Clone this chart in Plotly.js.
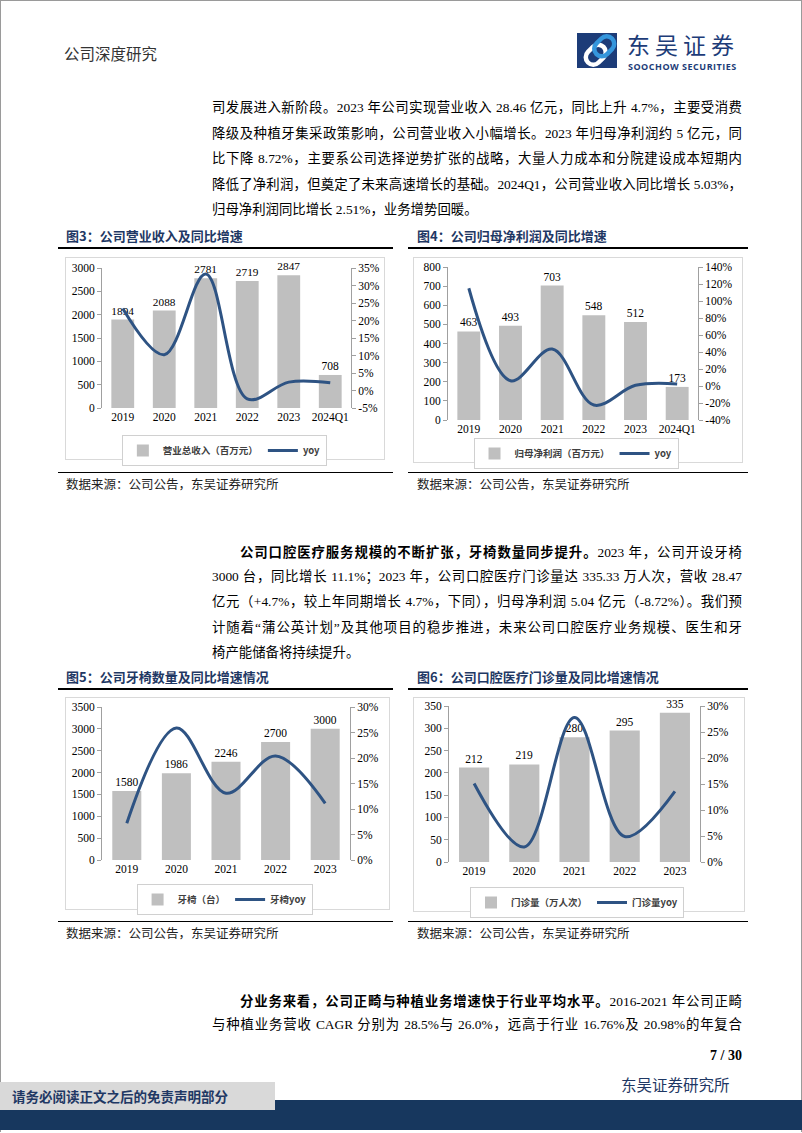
<!DOCTYPE html>
<html><head><meta charset="utf-8">
<script src="https://cdn.plot.ly/plotly-3.0.1.min.js"></script>
<style>
body{margin:0;width:802px;height:1133px;position:relative;background:#fff;overflow:hidden;font-family:"Liberation Serif","Noto Sans CJK SC",serif;color:#000;}
.abs{position:absolute;}
.tl{position:absolute;left:212px;width:530px;font-size:13.4px;line-height:18px;height:18px;text-align:justify;text-align-last:justify;}
.last{text-align-last:left;}
.figt{position:absolute;font-family:"Noto Sans CJK SC";font-weight:bold;font-size:13px;color:#1f3864;line-height:16px;}
.rule{position:absolute;height:2px;background:#000;}
.srule{position:absolute;height:1px;background:#000;}
.src{position:absolute;font-family:"Noto Sans CJK SC";font-size:12.5px;color:#222;line-height:16px;}
.frame{position:absolute;border:1px solid #d9d9d9;box-sizing:border-box;pointer-events:none;}
.chart{position:absolute;}
b{font-weight:bold;}
</style></head>
<body>
<div class="abs" style="left:0;top:0;width:800px;height:1131px;border:1px solid #9a9a9a;border-bottom:none;"></div>

<div class="abs" style="left:64px;top:43px;font-family:'Noto Sans CJK SC';font-size:15.5px;color:#333;line-height:20px;">公司深度研究</div>

<svg class="abs" style="left:577px;top:33px" width="46" height="35" viewBox="0 0 46 35">
  <rect x="0" y="0" width="46" height="35" fill="#1d3c78"/>
  <g transform="rotate(-45 23 17.5)">
    <rect x="6" y="10" width="22" height="15" rx="7.5" fill="none" stroke="#ffffff" stroke-width="4.5"/>
    <rect x="18" y="10" width="22" height="15" rx="7.5" fill="none" stroke="#3596dc" stroke-width="4.5"/>
  </g>
  <rect x="40" y="0" width="6" height="35" fill="#ffffff"/>
</svg>
<div class="abs" style="left:627px;top:32px;font-family:'Noto Sans CJK SC';font-size:23px;line-height:24px;height:24px;color:#1d3c78;letter-spacing:5px;">东吴证券</div>
<div class="abs" style="left:628px;top:61px;font-family:'Open Sans';font-weight:bold;font-size:9px;line-height:11px;color:#1d3c78;letter-spacing:0.5px;">SOOCHOW SECURITIES</div>

<div class="tl" style="top:99px;">司发展进入新阶段。2023 年公司实现营业收入 28.46 亿元，同比上升 4.7%，主要受消费</div>
<div class="tl" style="top:124.5px;">降级及种植牙集采政策影响，公司营业收入小幅增长。2023 年归母净利润约 5 亿元，同</div>
<div class="tl" style="top:150px;">比下降 8.72%，主要系公司选择逆势扩张的战略，大量人力成本和分院建设成本短期内</div>
<div class="tl" style="top:175.5px;">降低了净利润，但奠定了未来高速增长的基础。2024Q1，公司营业收入同比增长 5.03%，</div>
<div class="tl last" style="top:201px;">归母净利润同比增长 2.51%，业务增势回暖。</div>

<div class="figt" style="left:66px;top:228px;">图3：公司营业收入及同比增速</div>
<div class="figt" style="left:417px;top:228px;">图4：公司归母净利润及同比增速</div>
<div class="rule" style="left:58px;top:247px;width:335px;"></div>
<div class="rule" style="left:408px;top:247px;width:340px;"></div>

<div class="frame" style="left:65px;top:257px;width:320px;height:203px;"></div>
<div class="frame" style="left:413px;top:257px;width:330px;height:206px;"></div>
<div id="c3" class="chart" style="left:65px;top:257px;"></div>
<div id="c4" class="chart" style="left:413px;top:257px;"></div>

<div class="srule" style="left:58px;top:472px;width:335px;"></div>
<div class="srule" style="left:408px;top:472px;width:340px;"></div>
<div class="src" style="left:66px;top:476px;">数据来源：公司公告，东吴证券研究所</div>
<div class="src" style="left:417px;top:476px;">数据来源：公司公告，东吴证券研究所</div>

<div class="tl" style="top:542px;left:240px;width:502px;"><b style="font-family:'Noto Sans CJK SC';">公司口腔医疗服务规模的不断扩张，牙椅数量同步提升。</b>2023 年，公司开设牙椅</div>
<div class="tl" style="top:567.5px;">3000 台，同比增长 11.1%；2023 年，公司口腔医疗门诊量达 335.33 万人次，营收 28.47</div>
<div class="tl" style="top:593px;">亿元（+4.7%，较上年同期增长 4.7%，下同），归母净利润 5.04 亿元（-8.72%）。我们预</div>
<div class="tl" style="top:618.5px;">计随着“蒲公英计划”及其他项目的稳步推进，未来公司口腔医疗业务规模、医生和牙</div>
<div class="tl last" style="top:644px;">椅产能储备将持续提升。</div>

<div class="figt" style="left:66px;top:669px;">图5：公司牙椅数量及同比增速情况</div>
<div class="figt" style="left:417px;top:669px;">图6：公司口腔医疗门诊量及同比增速情况</div>
<div class="rule" style="left:58px;top:688px;width:335px;"></div>
<div class="rule" style="left:408px;top:688px;width:340px;"></div>

<div class="frame" style="left:65px;top:697px;width:325px;height:213px;"></div>
<div class="frame" style="left:413px;top:697px;width:332px;height:215px;"></div>
<div id="c5" class="chart" style="left:65px;top:697px;"></div>
<div id="c6" class="chart" style="left:413px;top:697px;"></div>

<div class="srule" style="left:58px;top:921px;width:335px;"></div>
<div class="srule" style="left:408px;top:921px;width:340px;"></div>
<div class="src" style="left:66px;top:925px;">数据来源：公司公告，东吴证券研究所</div>
<div class="src" style="left:417px;top:925px;">数据来源：公司公告，东吴证券研究所</div>

<div class="tl" style="top:991px;left:240px;width:502px;"><b style="font-family:'Noto Sans CJK SC';">分业务来看，公司正畸与种植业务增速快于行业平均水平。</b>2016-2021 年公司正畸</div>
<div class="tl" style="top:1016px;">与种植业务营收 CAGR 分别为 28.5%与 26.0%，远高于行业 16.76%及 20.98%的年复合</div>

<div class="abs" style="left:642px;top:1047px;width:100px;text-align:right;font-weight:bold;font-size:14px;line-height:18px;">7 / 30</div>
<div class="abs" style="left:621px;top:1074px;font-family:'Noto Sans CJK SC';font-size:15.5px;line-height:20px;color:#1f3864;">东吴证券研究所</div>

<div class="abs" style="left:0;top:1100px;width:802px;height:30px;background:#17375e;"></div>
<div class="abs" style="left:0;top:1082px;width:275px;height:28px;background:#d9d9d9;"></div>
<div class="abs" style="left:12px;top:1087px;font-family:'Noto Sans CJK SC';font-weight:bold;font-size:13.5px;line-height:18px;color:#1f3864;">请务必阅读正文之后的免责声明部分</div>

<script>
// ---- data ----
const years6 = ['2019','2020','2021','2022','2023','2024Q1'];
const years5 = ['2019','2020','2021','2022','2023'];

const revenue = [1894, 2088, 2781, 2719, 2847, 708];          // 营业总收入（百万元）
const revenueYoy = [23.4, 10.2, 33.3, -2.4, 2.4, 2.2];         // yoy %
const revenueTicksL = [0, 500, 1000, 1500, 2000, 2500, 3000];
const revenueTicksR = [-5, 0, 5, 10, 15, 20, 25, 30, 35];

const netProfit = [463, 493, 703, 548, 512, 173];              // 归母净利润（百万元）
const netProfitYoy = [115, 6.2, 43.4, -22.4, 0.8, 2.5];
const netProfitTicksL = [0, 100, 200, 300, 400, 500, 600, 700, 800];
const netProfitTicksR = [-40, -20, 0, 20, 40, 60, 80, 100, 120, 140];

const chairs = [1580, 1986, 2246, 2700, 3000];                 // 牙椅（台）
const chairsYoy = [7.2, 25.9, 13.1, 20.4, 11.1];
const chairsTicksL = [0, 500, 1000, 1500, 2000, 2500, 3000, 3500];
const chairsTicksR = [0, 5, 10, 15, 20, 25, 30];

const visits = [212, 219, 280, 295, 335];                      // 门诊量（万人次）
const visitsYoy = [15.1, 2.9, 27.8, 4.9, 13.6];
const visitsTicksL = [0, 50, 100, 150, 200, 250, 300, 350];
const visitsTicksR = [0, 5, 10, 15, 20, 25, 30];

// ---- drawing ----
const GRAY = '#bfbfbf', BLUE = '#2e5383', AX = '#a0a0a0';
const SERIF = '"Liberation Serif", "Noto Sans CJK SC", serif';
const EXTRA = 8; // extra room below the frame so the legend is never clipped

function draw(id, cats, bars, yoy, barName, lineName, ticksL, ticksR, opt) {
  const data = [
    {type:'bar', x:cats, y:bars, name:barName, marker:{color:GRAY},
     text:bars.map(String), textposition:'outside', cliponaxis:false,
     textfont:{family:SERIF, size:11.5, color:'#000'}, hoverinfo:'skip'},
    {type:'scatter', mode:'lines', x:cats, y:yoy, name:lineName, yaxis:'y2',
     line:{color:BLUE, width:3, shape:'spline', smoothing:1}, cliponaxis:false, hoverinfo:'skip'}
  ];
  const axisCommon = {showline:true, linecolor:AX, linewidth:1, ticks:'outside', ticklen:4,
    tickcolor:AX, showgrid:false, zeroline:false, tickfont:{family:SERIF, size:11.5, color:'#000'}, fixedrange:true};
  const H = opt.h + EXTRA;
  const m = Object.assign({}, opt.m, {b: opt.m.b + EXTRA});
  const layout = {
    width:opt.w, height:H, margin:m,
    paper_bgcolor:'rgba(0,0,0,0)', plot_bgcolor:'rgba(0,0,0,0)',
    font:{family:SERIF, size:11.5, color:'#000'},
    bargap:opt.gap, showlegend:true,
    legend:{orientation:'h', xref:'container', yref:'container', x:opt.lx,
      y:1 - opt.legTop / H,
      xanchor:'center', yanchor:'top', bgcolor:'#ffffff', bordercolor:'#d0d0d0', borderwidth:1,
      font:{family:'"Noto Sans CJK SC", sans-serif', size:9.5, color:'#404040', weight:'bold'},
      itemwidth:30, tracegroupgap:0},
    xaxis:{type:'category', showline:false, ticks:'', showgrid:false, zeroline:false,
      tickfont:{family:SERIF, size:11.5, color:'#000'}, fixedrange:true},
    yaxis:Object.assign({range:[ticksL[0], ticksL[ticksL.length-1]], tickvals:ticksL,
      ticktext:ticksL.map(String)}, axisCommon),
    yaxis2:Object.assign({overlaying:'y', side:'right', range:[ticksR[0], ticksR[ticksR.length-1]],
      tickvals:ticksR, ticktext:ticksR.map(v => v + '%')}, axisCommon)
  };
  Plotly.newPlot(id, data, layout, {staticPlot:true, displayModeBar:false});
}

draw('c3', years6, revenue, revenueYoy, '营业总收入（百万元）', 'yoy', revenueTicksL, revenueTicksR,
  {w:320, h:203, m:{l:37, r:34, t:11, b:52, pad:0}, gap:0.45, lx:0.498, legTop:178});
draw('c4', years6, netProfit, netProfitYoy, '归母净利润（百万元）', 'yoy', netProfitTicksL, netProfitTicksR,
  {w:330, h:206, m:{l:35, r:45, t:10, b:43, pad:0}, gap:0.45, lx:0.494, legTop:181});
draw('c5', years5, chairs, chairsYoy, '牙椅（台）', '牙椅yoy', chairsTicksL, chairsTicksR,
  {w:325, h:213, m:{l:37, r:40, t:10, b:50, pad:0}, gap:0.415, lx:0.491, legTop:187});
draw('c6', years5, visits, visitsYoy, '门诊量（万人次）', '门诊量yoy', visitsTicksL, visitsTicksR,
  {w:332, h:215, m:{l:36, r:45, t:9, b:50, pad:0}, gap:0.4, lx:0.494, legTop:190});
</script>
</body></html>
